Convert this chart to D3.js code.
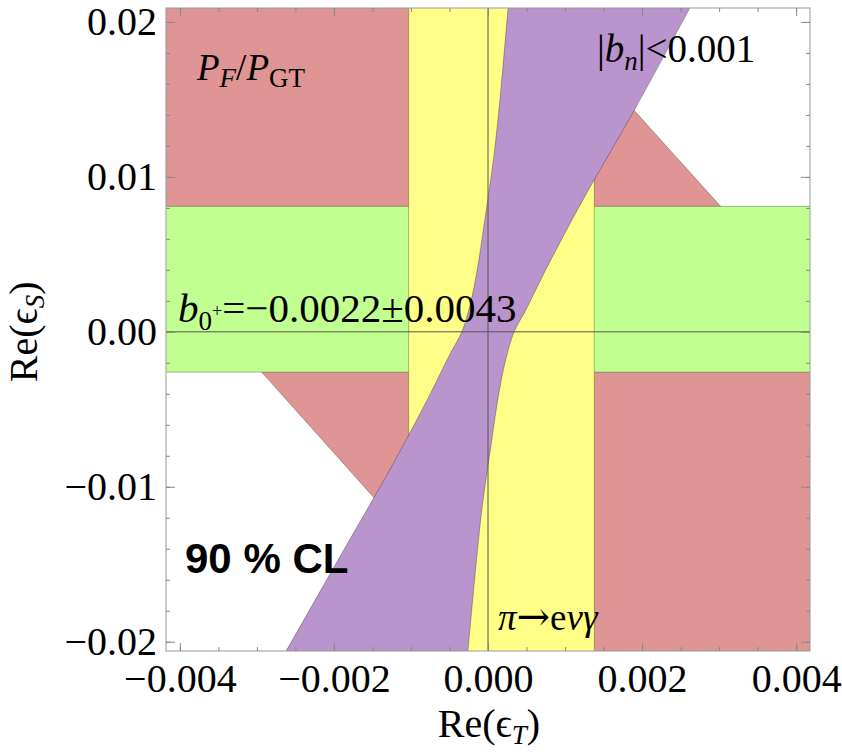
<!DOCTYPE html>
<html>
<head>
<meta charset="utf-8">
<script src="https://cdn.jsdelivr.net/npm/d3@7"></script>
<style>
  body { margin: 0; background: #fff; }
  text { font-family: "Liberation Serif", "DejaVu Serif", serif; }
</style>
</head>
<body>
<div id="chart"></div>
<script>
// axis ranges (Re eps_T, Re eps_S)
var xDomain = [-0.00418, 0.00418];
var yDomain = [-0.0206, 0.0209];
var xMajor = [-0.004, -0.002, 0, 0.002, 0.004];
var yMajor = [-0.02, -0.01, 0, 0.01, 0.02];

// P_F/P_GT allowed band (corners of the band inside the frame)
var redBand = [[-0.00418, 0.0209], [0.0007, 0.0209], [0.00418, 0.0017],
               [0.00418, -0.0206], [0.0003, -0.0206], [-0.00418, 0.0043]];
// b_0+ band in Re(eps_S)
var greenBand = [-0.0026, 0.0081];
// pi -> e nu gamma band in Re(eps_T)
var yellowBand = [-0.00103, 0.00138];
// |b_n| < 0.001 region, right boundary (top to bottom), left boundary (bottom to top)
var purpleRight = [[0.00262, 0.0209], [0.00191, 0.0144], [0.00123, 0.0085], [0.00077, 0.0042],
                   [0.00049, 0.0014], [0.00034, 0.0], [0.00023, -0.0018], [0.00014, -0.0040],
                   [0.00004, -0.0073], [-0.00008, -0.0115], [-0.00017, -0.0158], [-0.00026, -0.0206]];
var purpleLeft = [[-0.00262, -0.0206], [-0.00191, -0.0144], [-0.00123, -0.0085], [-0.00077, -0.0042],
                  [-0.00049, -0.0014], [-0.00034, 0.0], [-0.00023, 0.0018], [-0.00014, 0.0040],
                  [-0.00004, 0.0073], [0.00008, 0.0115], [0.00017, 0.0158], [0.00026, 0.0209]];

var W = 842, H = 755;
var margin = {top: 8, right: 32, bottom: 104, left: 166};
var width = W - margin.left - margin.right;
var height = H - margin.top - margin.bottom;

var svg = d3.select("#chart").append("svg")
    .attr("width", W)
    .attr("height", H);

var x = d3.scaleLinear().domain(xDomain).range([margin.left, margin.left + width]);
var y = d3.scaleLinear().domain(yDomain).range([margin.top + height, margin.top]);

svg.append("clipPath").attr("id", "plotClip")
  .append("rect")
    .attr("x", margin.left).attr("y", margin.top)
    .attr("width", width).attr("height", height);

var plot = svg.append("g").attr("clip-path", "url(#plotClip)");
var edge = "rgba(0,0,0,0.28)";

var line = d3.line().x(function(d) { return x(d[0]); }).y(function(d) { return y(d[1]); });

// red
plot.append("path")
    .attr("d", line(redBand) + "Z")
    .attr("fill", "#E09595")
    .attr("stroke", edge);

// green
plot.append("rect")
    .attr("x", x(xDomain[0]) - 2)
    .attr("y", y(greenBand[1]))
    .attr("width", width + 4)
    .attr("height", y(greenBand[0]) - y(greenBand[1]))
    .attr("fill", "#C0FF90")
    .attr("stroke", edge);

// yellow
plot.append("rect")
    .attr("x", x(yellowBand[0]))
    .attr("y", margin.top - 2)
    .attr("width", x(yellowBand[1]) - x(yellowBand[0]))
    .attr("height", height + 4)
    .attr("fill", "#FFFF88")
    .attr("stroke", edge);

// purple
var purpleCurve = d3.line().x(function(d) { return x(d[0]); }).y(function(d) { return y(d[1]); })
    .curve(d3.curveCatmullRom.alpha(0.5));
plot.append("path")
    .attr("d", purpleCurve(purpleRight) + "L" + purpleCurve(purpleLeft).slice(1) + "Z")
    .attr("fill", "#BA94CC")
    .attr("stroke", edge);

// coordinate axes through origin
plot.append("line")
    .attr("x1", x(0)).attr("x2", x(0))
    .attr("y1", margin.top).attr("y2", margin.top + height)
    .attr("stroke", "#555").attr("stroke-width", 1);
plot.append("line")
    .attr("x1", margin.left).attr("x2", margin.left + width)
    .attr("y1", y(0)).attr("y2", y(0))
    .attr("stroke", "#555").attr("stroke-width", 1);

// frame
svg.append("rect")
    .attr("x", margin.left).attr("y", margin.top)
    .attr("width", width).attr("height", height)
    .attr("fill", "none")
    .attr("stroke", "#aaa")
    .attr("stroke-width", 1.2);

function styleAxis(g) {
    g.select(".domain").remove();
    g.selectAll(".tick line").attr("stroke", "#888");
    g.selectAll("text")
        .attr("fill", "#000")
        .style("font-family", "'Liberation Serif', serif")
        .style("font-size", "40px");
}

// minor ticks on all sides
var sides = [
    [d3.axisBottom(x).tickValues(x.ticks(16)), "translate(0," + (margin.top + height) + ")"],
    [d3.axisTop(x).tickValues(x.ticks(16)), "translate(0," + margin.top + ")"],
    [d3.axisLeft(y).tickValues(y.ticks(20)), "translate(" + margin.left + ",0)"],
    [d3.axisRight(y).tickValues(y.ticks(20)), "translate(" + (margin.left + width) + ",0)"]
];
sides.forEach(function(s) {
    svg.append("g")
        .attr("transform", s[1])
        .call(s[0].tickSize(-4).tickFormat(""))
        .call(styleAxis);
});

// major ticks + labels
svg.append("g")
    .attr("transform", "translate(0," + (margin.top + height) + ")")
    .call(d3.axisBottom(x).tickValues(xMajor).tickSize(-8).tickPadding(13).tickFormat(d3.format(".3f")))
    .call(styleAxis);
svg.append("g")
    .attr("transform", "translate(0," + margin.top + ")")
    .call(d3.axisTop(x).tickValues(xMajor).tickSize(-8).tickFormat(""))
    .call(styleAxis);
svg.append("g")
    .attr("transform", "translate(" + margin.left + ",0)")
    .call(d3.axisLeft(y).tickValues(yMajor).tickSize(-9).tickPadding(9).tickFormat(d3.format(".2f")))
    .call(styleAxis);
svg.append("g")
    .attr("transform", "translate(" + (margin.left + width) + ",0)")
    .call(d3.axisRight(y).tickValues(yMajor).tickSize(-9).tickFormat(""))
    .call(styleAxis);

// axis titles
var xt = svg.append("text")
    .attr("x", 489).attr("y", 737)
    .attr("text-anchor", "middle")
    .style("font-size", "40px");
xt.append("tspan").text("Re(\u03F5");
xt.append("tspan").attr("font-style", "italic").attr("font-size", "27px").attr("dy", 7).text("T");
xt.append("tspan").attr("dy", -7).text(")");

var yt = svg.append("text")
    .attr("transform", "translate(37," + y(0) + ") rotate(-90)")
    .attr("text-anchor", "middle")
    .style("font-size", "40px");
yt.append("tspan").text("Re(\u03F5");
yt.append("tspan").attr("font-style", "italic").attr("font-size", "27px").attr("dy", 7).text("S");
yt.append("tspan").attr("dy", -7).text(")");

// labels
var t1 = svg.append("text").attr("x", 197).attr("y", 80).style("font-size", "37px");
t1.append("tspan").attr("font-style", "italic").text("P");
t1.append("tspan").attr("font-style", "italic").attr("font-size", "27px").attr("dy", 7).text("F");
t1.append("tspan").attr("dy", -7).text("/");
t1.append("tspan").attr("font-style", "italic").text("P");
t1.append("tspan").attr("font-size", "27px").attr("dy", 7).text("GT");

var t2 = svg.append("text").attr("x", 597).attr("y", 62).style("font-size", "39px");
t2.append("tspan").text("|");
t2.append("tspan").attr("font-style", "italic").text("b");
t2.append("tspan").attr("font-style", "italic").attr("font-size", "27px").attr("dy", 8).text("n");
t2.append("tspan").attr("dy", -8).text("|<0.001");

var t3 = svg.append("text").attr("x", 178).attr("y", 322).style("font-size", "41px");
t3.append("tspan").attr("font-style", "italic").text("b");
t3.append("tspan").attr("font-size", "27px").attr("dy", 8).text("0");
t3.append("tspan").attr("font-size", "18px").attr("dy", -13).text("+");
t3.append("tspan").attr("dy", 5).text("=\u22120.0022\u00B10.0043");

var t4 = svg.append("text").attr("x", 498).attr("y", 630).style("font-size", "37px");
t4.append("tspan").attr("font-style", "italic").text("\u03C0");
t4.append("tspan").style("font-family", "'DejaVu Serif', serif").style("font-size", "40px").text("\u2192");
t4.append("tspan").text("e");
t4.append("tspan").attr("font-style", "italic").text("\u03BD\u03B3");

svg.append("text")
    .attr("x", 185).attr("y", 573)
    .style("font-family", "'Liberation Sans', Arial, sans-serif")
    .style("font-weight", "bold")
    .style("font-size", "42px")
    .text("90 % CL");
</script>
</body>
</html>
